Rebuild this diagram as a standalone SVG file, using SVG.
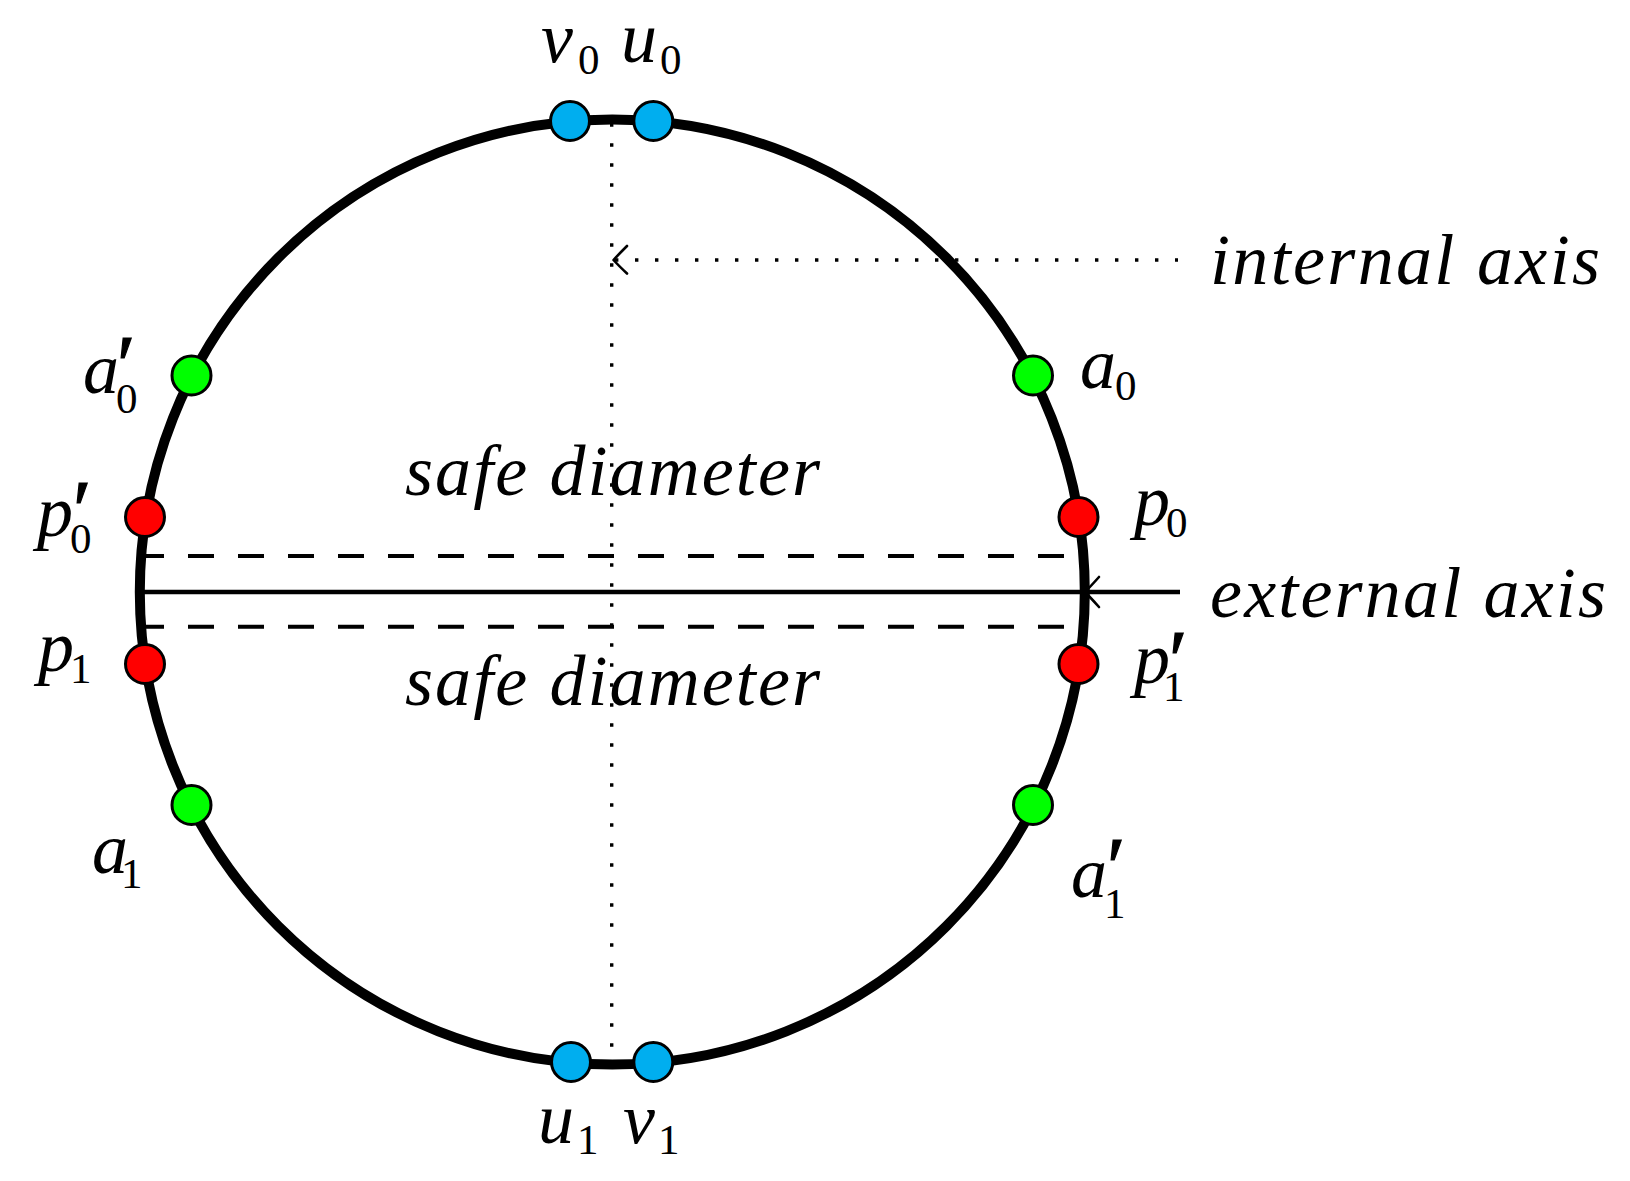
<svg xmlns="http://www.w3.org/2000/svg" width="1630" height="1181" viewBox="0 0 1630 1181">
<style>
.ring{fill:none;stroke:#000;stroke-width:10}
.node{stroke:#000;stroke-width:3}
.blue{fill:#00AEEF}
.red{fill:#FF0000}
.green{fill:#00FF00}
.dot{fill:none;stroke:#000;stroke-width:3.4;stroke-dasharray:3.4 16.6}
.dash{fill:none;stroke:#000;stroke-width:4;stroke-dasharray:26 24}
.solid{fill:none;stroke:#000;stroke-width:4.4}
.head{fill:none;stroke:#000;stroke-width:2.6;stroke-linecap:round;stroke-linejoin:round}
text{font-family:"Liberation Serif","DejaVu Serif",serif;fill:#000}
.m{font-style:italic;font-size:72px}
.s{font-style:normal;font-size:43px}
.pr{font-style:normal;font-size:84px;stroke:#000;stroke-width:1.2}
</style>
<rect width="1630" height="1181" fill="#fff"/>
<g id="ring"><circle class="ring" cx="612.3" cy="592" r="472.5"/></g>
<g id="connectors">
<path class="dot" d="M611.7,123.3 V1063"/>
<path class="dot" d="M615,260 H1178"/>
<path class="head" d="M627,246 Q618,255 613.5,260 Q618,265 627,273.5"/>
<path class="dash" d="M138,556 H1083"/>
<path class="dash" d="M138,626.7 H1083"/>
<path class="solid" d="M139,592 H1180"/>
<path class="head" d="M1099,577 Q1090,587 1085,592 Q1090,597 1099,607"/>
</g>
<g id="internal-axis-label"><text class="m" x="1210" y="284" textLength="390" lengthAdjust="spacing">internal axis</text></g>
<g id="external-axis-label"><text class="m" x="1210" y="617" textLength="396" lengthAdjust="spacing">external axis</text></g>
<g id="safe-diameter-upper"><text class="m" x="405" y="495" textLength="415" lengthAdjust="spacing">safe diameter</text></g>
<g id="safe-diameter-lower"><text class="m" x="405" y="705" textLength="415" lengthAdjust="spacing">safe diameter</text></g>
<g id="v0"><circle class="node blue" cx="570" cy="121" r="19.5"/><text class="m" x="541" y="62">v<tspan class="s" x="578" y="74">0</tspan></text></g>
<g id="u0"><circle class="node blue" cx="653.3" cy="121" r="19.5"/><text class="m" x="621" y="62">u<tspan class="s" x="660" y="74">0</tspan></text></g>
<g id="u1"><circle class="node blue" cx="571" cy="1062" r="19.5"/><text class="m" x="538" y="1143">u<tspan class="s" x="577" y="1154">1</tspan></text></g>
<g id="v1"><circle class="node blue" cx="653.3" cy="1062" r="19.5"/><text class="m" x="623" y="1143">v<tspan class="s" x="658" y="1154">1</tspan></text></g>
<g id="a0p"><circle class="node green" cx="191.5" cy="375.5" r="19.5"/><text class="m" x="83" y="393">a<tspan class="pr" x="117" y="394">′</tspan><tspan class="s" x="116" y="413">0</tspan></text></g>
<g id="a0"><circle class="node green" cx="1033" cy="375.5" r="19.5"/><text class="m" x="1080" y="388">a<tspan class="s" x="1115" y="400">0</tspan></text></g>
<g id="p0p"><circle class="node red" cx="145" cy="517" r="19.5"/><text class="m" x="37" y="536">p<tspan class="pr" x="73" y="539">′</tspan><tspan class="s" x="70" y="553">0</tspan></text></g>
<g id="p0"><circle class="node red" cx="1078.5" cy="517" r="19.5"/><text class="m" x="1134" y="525">p<tspan class="s" x="1166" y="537">0</tspan></text></g>
<g id="p1"><circle class="node red" cx="145" cy="664" r="19.5"/><text class="m" x="38" y="671">p<tspan class="s" x="70" y="683">1</tspan></text></g>
<g id="p1p"><circle class="node red" cx="1078.5" cy="664" r="19.5"/><text class="m" x="1134" y="683">p<tspan class="pr" x="1169" y="689">′</tspan><tspan class="s" x="1163" y="701">1</tspan></text></g>
<g id="a1"><circle class="node green" cx="191.5" cy="805" r="19.5"/><text class="m" x="92" y="873">a<tspan class="s" x="121" y="888">1</tspan></text></g>
<g id="a1p"><circle class="node green" cx="1033" cy="805" r="19.5"/><text class="m" x="1071" y="897">a<tspan class="pr" x="1107" y="896">′</tspan><tspan class="s" x="1104" y="918">1</tspan></text></g>
</svg>
